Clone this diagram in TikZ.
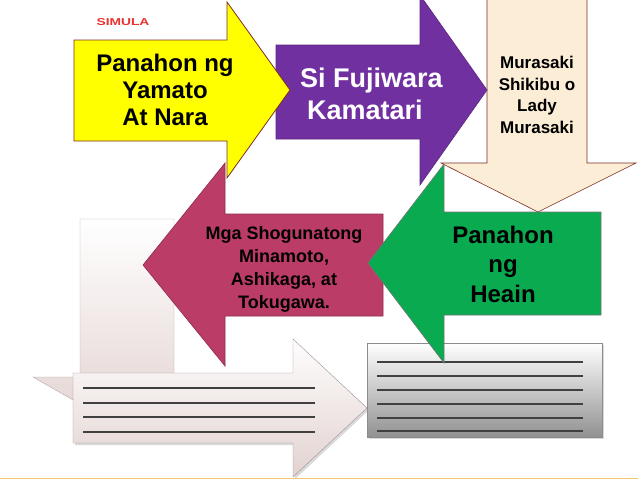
\documentclass[tikz,border=0pt]{standalone}
\usepackage{xcolor}
\usepackage{fontspec}
\setmainfont{Liberation Sans}
\usepackage{tikz}
\usetikzlibrary{shadows}

\definecolor{yamatoyellow}{RGB}{255,255,0}
\definecolor{fujipurple}{RGB}{112,48,160}
\definecolor{shikicream}{RGB}{251,237,214}
\definecolor{heiangreen}{RGB}{10,170,80}
\definecolor{shogunred}{RGB}{188,60,104}
\definecolor{edgebrown}{RGB}{125,45,35}
\definecolor{simulared}{RGB}{235,50,50}
\definecolor{footgold}{RGB}{240,200,110}
\definecolor{paleback}{RGB}{226,210,208}
\definecolor{greyback}{RGB}{145,145,145}

\begin{document}
\begin{tikzpicture}[x=1pt,y=-1pt]
			\tikzstyle{every node}+=[inner sep=0pt]
			\tikzstyle{soft shadow}=[drop shadow={shadow xshift=2pt,shadow yshift=-2pt,opacity=0.25,fill=black!60}]
			\tikzstyle{rule line}=[draw=black!75, line width=1.1pt]
			\useasboundingbox (0,0) rectangle (638,479);
			% lower layer
			\draw [draw=paleback!80!black, line width=0.4pt, top color=white, bottom color=paleback] (80,219) -- (174,219) -- (174,377) -- (221,377) -- (127,431) -- (33,377) -- (80,377) -- cycle;
			\draw [soft shadow, draw=paleback!70!black, line width=0.4pt, top color=white!96!paleback, bottom color=paleback] (73,373) -- (293,373) -- (293,339) -- (367,408) -- (293,477) -- (293,443) -- (73,443) -- cycle;
			\foreach \y in {388,403,417,432}
				\draw [rule line] (83,\y) -- (315,\y);
			\draw [soft shadow, draw=black!45, line width=0.6pt, top color=white, bottom color=greyback] (367,343) rectangle (602,437);
			\foreach \y in {362,376,390,404,418,431}
				\draw [rule line] (377,\y) -- (583,\y);
			% coloured arrows
			\draw [fill=shogunred, draw=shogunred!75!black, line width=0.6pt] (383,214) -- (225,214) -- (225,163) -- (143,265) -- (225,366) -- (225,316) -- (383,316) -- cycle;
			\draw [fill=heiangreen, draw=black!55, line width=0.6pt] (601,212) -- (444,212) -- (444,164) -- (368,263) -- (444,363) -- (444,315) -- (601,315) -- cycle;
			\draw [fill=shikicream, draw=edgebrown, line width=0.6pt] (487,-2) -- (587,-2) -- (587,163) -- (636,163) -- (538,212) -- (441,163) -- (487,163) -- cycle;
			\draw [fill=fujipurple, draw=fujipurple!80!black, line width=0.6pt] (276,45) -- (420,45) -- (420,-5) -- (487,90) -- (420,185) -- (420,139) -- (276,139) -- cycle;
			\draw [fill=yamatoyellow, draw=edgebrown, line width=0.8pt] (74,40) -- (227,40) -- (227,2) -- (290,90) -- (227,178) -- (227,141) -- (74,141) -- cycle;
			\draw [draw=footgold, line width=1pt] (0,478) -- (638,478);
			% texts
			\node (simula) at (123,22) [text=simulared, font=\bfseries\fontsize{10}{12}\selectfont] {\scalebox{1.38}[1]{SIMULA}};
			\node (yamato) at (165,90) [align=center, font=\bfseries\fontsize{24}{27}\selectfont] {Panahon ng\\Yamato\\At Nara};
			\node (fujiwara) at (300,94) [anchor=west, align=left, text=white, font=\bfseries\fontsize{27}{32}\selectfont] {Si Fujiwara\\\hspace*{7pt}Kamatari};
			\node (murasaki) at (537,95) [align=center, font=\bfseries\fontsize{17}{21.5}\selectfont] {Murasaki\\Shikibu o\\Lady\\Murasaki};
			\node (shogun) at (284,269) [align=center, font=\bfseries\fontsize{18}{23}\selectfont] {Mga Shogunatong\\Minamoto,\\Ashikaga, at\\Tokugawa.};
			\node (heian) at (503,264) [align=center, font=\bfseries\fontsize{24}{29.5}\selectfont] {Panahon\\ng\\Heain};
		\end{tikzpicture}
\end{document}
